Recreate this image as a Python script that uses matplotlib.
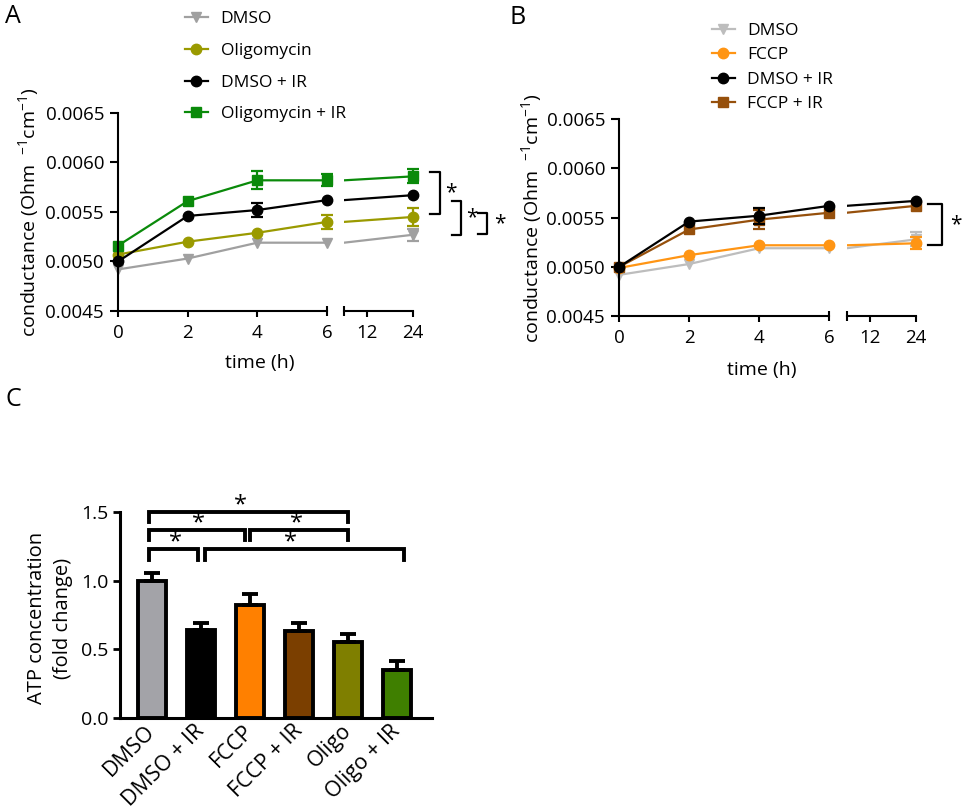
import matplotlib
matplotlib.use("Agg")
import matplotlib.pyplot as plt
import matplotlib.transforms as mtransforms
from matplotlib.lines import Line2D
import numpy as np

plt.rcParams.update({'font.family': 'Open Sans', 'font.size': 14,
                     'xtick.labelsize': 13.5, 'ytick.labelsize': 13.5,
                     'mathtext.fontset': 'custom', 'mathtext.rm': 'Open Sans',
                     'mathtext.default': 'regular', 'axes.linewidth': 1.5})

W, H = 967, 811

# ---- data ----
time_h = [0, 2, 4, 6, 24]

a_dmso = [0.00492, 0.00503, 0.00519, 0.00519, 0.00527]
a_dmso_err = [0, 0, 0, 0, 0.00006]
a_oligo = [0.00507, 0.00520, 0.00529, 0.00540, 0.00545]
a_oligo_err = [0, 0, 0, 0.00007, 0.00009]
a_dmso_ir = [0.00500, 0.00546, 0.00552, 0.00562, 0.00567]
a_dmso_ir_err = [0, 0, 0.00007, 0, 0]
a_oligo_ir = [0.00516, 0.00561, 0.00582, 0.00582, 0.00586]
a_oligo_ir_err = [0, 0, 0.00009, 0.00006, 0.00007]

b_dmso = [0.00492, 0.00503, 0.00519, 0.00519, 0.00528]
b_dmso_err = [0, 0, 0, 0, 0.00007]
b_fccp = [0.00499, 0.00512, 0.00522, 0.00522, 0.00524]
b_fccp_err = [0, 0, 0, 0, 0.00006]
b_dmso_ir = [0.00500, 0.00546, 0.00552, 0.00562, 0.00567]
b_dmso_ir_err = [0, 0, 0.00008, 0, 0]
b_fccp_ir = [0.00500, 0.00538, 0.00548, 0.00555, 0.00562]
b_fccp_ir_err = [0, 0, 0.00010, 0, 0]

# significance brackets (y spans) next to the 24 h points
a_sig = [(0.005907, 0.00548), (0.005614, 0.005268), (0.005487, 0.005278)]
b_sig = [(0.00564, 0.005224)]

c_groups = ["DMSO", "DMSO + IR", "FCCP", "FCCP + IR", "Oligo", "Oligo + IR"]
c_atp = [1.00, 0.64, 0.82, 0.635, 0.555, 0.35]
c_atp_err = [0.055, 0.055, 0.08, 0.06, 0.06, 0.065]
c_colors = ['#a3a3a8', '#000000', '#ff8000', '#7b3f00', '#7f7f00', '#3f7f00']
# pairs compared in C: (left, right, level, star x)
c_sig = [(-0.05, 4.0, 1.50, 1.81), (-0.05, 1.9, 1.37, 0.94), (2.0, 4.0, 1.37, 2.95),
         (-0.05, 0.95, 1.226, 0.48), (1.09, 5.14, 1.226, 2.82)]

fig = plt.figure(figsize=(W / 100, H / 100), dpi=100)


def fx(px):
    return px / W


def fy(py):
    return 1 - py / H


def conductance_panel(x0, x6, seg2, x24, top, bottom, series, sig, sig_x):
    s1 = (x6 - x0) / 6.0
    s2 = (x24 - seg2) / 18.0
    left1 = x0 - 0.3 * s1
    right1 = x6 + 0.25 * s1
    right2 = x24 + 1.6 * s2
    ax1 = fig.add_axes([fx(left1), fy(bottom), (right1 - left1) / W, (bottom - top) / H])
    ax2 = fig.add_axes([fx(seg2), fy(bottom), (right2 - seg2) / W, (bottom - top) / H])
    ax1.set_xlim(-0.3, 6.25)
    ax2.set_xlim(6, 25.6)
    t = np.array(time_h, dtype=float)
    for ax in (ax1, ax2):
        ax.set_ylim(0.0045, 0.0065)
        ax.patch.set_alpha(0)
        ax.spines['top'].set_visible(False)
        ax.spines['right'].set_visible(False)
        ax.tick_params(which='major', direction='out', length=4.5, width=1.5, pad=5)
        ax.tick_params(which='minor', direction='inout', length=7, width=1.5, pad=6)
    ax1.tick_params(axis='y', length=6, pad=4)
    ax1.spines['left'].set_position(('data', 0))
    ax1.spines['bottom'].set_bounds(0, 6)
    ax2.spines['left'].set_visible(False)
    ax2.spines['bottom'].set_bounds(6, 24)
    ax2.set_yticks([])
    ax1.set_yticks([0.0045, 0.0050, 0.0055, 0.0060, 0.0065])
    ax1.set_yticklabels(['0.0045', '0.0050', '0.0055', '0.0060', '0.0065'])
    ax1.set_xticks([0, 2, 4])
    ax1.set_xticks([6], labels=['6'], minor=True)
    ax2.set_xticks([12, 24])
    ax2.set_xticks([6], labels=[''], minor=True)

    handles = []
    for vals, errs, color, marker, label in series:
        v = np.array(vals)
        e = np.array(errs)
        m = e[:4] > 0
        if m.any():
            ax1.errorbar(t[:4][m], v[:4][m], yerr=e[:4][m], fmt='none', ecolor=color,
                         elinewidth=1.6, capsize=4.5, capthick=1.6)
        ax1.plot(t[:4], v[:4], color=color, marker=marker, ms=7.5, lw=1.6, mec=color)
        if e[4] > 0:
            ax2.errorbar([t[4]], [v[4]], yerr=[e[4]], fmt='none', ecolor=color,
                         elinewidth=1.6, capsize=4.5, capthick=1.6)
        ax2.plot(t[3:], v[3:], color=color, marker=marker, ms=7.5, lw=1.6, mec=color,
                 markevery=[1])
        handles.append(Line2D([0], [0], color=color, marker=marker, ms=7.5, lw=1.6,
                              label=label))

    tr = mtransforms.blended_transform_factory(ax2.transAxes, ax2.transData)
    for (yt, yb), (xa, xb, xs) in zip(sig, sig_x):
        ax2.plot([xa, xb, xb, xa], [yt, yt, yb, yb], color='black', lw=1.6,
                 transform=tr, clip_on=False)
        ax2.text(xs, (yt + yb) / 2, '*', transform=tr, ha='center', va='center',
                 fontsize=15)
    return ax1, ax2, handles


# ---- panel A ----
series_a = [(a_dmso, a_dmso_err, '#a0a0a0', 'v', 'DMSO'),
            (a_oligo, a_oligo_err, '#9a9a00', 'o', 'Oligomycin'),
            (a_dmso_ir, a_dmso_ir_err, '#000000', 'o', 'DMSO + IR'),
            (a_oligo_ir, a_oligo_ir_err, '#0a8a0a', 's', 'Oligomycin + IR')]
a1, a2, ha = conductance_panel(118, 327, 344, 413, 113, 311, series_a, a_sig,
                               [(1.147, 1.28, 1.427), (1.44, 1.56, 1.707),
                                (1.787, 1.907, 2.08)])
fig.legend(handles=ha, loc='upper left', bbox_to_anchor=(fx(185), fy(11)),
           frameon=False, borderpad=0, borderaxespad=0, handlelength=1.3,
           handletextpad=0.75, labelspacing=0.9, fontsize=12.5)

# ---- panel B ----
series_b = [(b_dmso, b_dmso_err, '#bdbdbd', 'v', 'DMSO'),
            (b_fccp, b_fccp_err, '#ff9514', 'o', 'FCCP'),
            (b_fccp_ir, b_fccp_ir_err, '#96500c', 's', 'FCCP + IR'),
            (b_dmso_ir, b_dmso_ir_err, '#000000', 'o', 'DMSO + IR')]
b1, b2, hb = conductance_panel(619, 829.3, 846.7, 916, 119, 316.3, series_b, b_sig,
                               [(1.079, 1.265, 1.44)])
hb = [hb[0], hb[1], hb[3], hb[2]]
fig.legend(handles=hb, loc='upper left', bbox_to_anchor=(fx(711.7), fy(23)),
           frameon=False, borderpad=0, borderaxespad=0, handlelength=1.34,
           handletextpad=0.7, labelspacing=0.47, fontsize=12.5)

ylab = 'conductance (Ohm  $^{-1}$cm$^{-1}$)'
fig.text(fx(29), fy(212), ylab, rotation=90, ha='center', va='center')
fig.text(fx(532), fy(218), ylab, rotation=90, ha='center', va='center')
fig.text(fx(260), fy(363), 'time (h)', ha='center', va='center')
fig.text(fx(762), fy(370), 'time (h)', ha='center', va='center')

# ---- panel C ----
axc = fig.add_axes([fx(120), fy(718.3), (432 - 120) / W, (718.3 - 511.7) / H])
xpos = np.arange(len(c_groups))
axc.bar(xpos, c_atp, width=0.56, color=c_colors, edgecolor='black', linewidth=2.8,
        yerr=[np.zeros(len(c_atp)), c_atp_err],
        error_kw=dict(elinewidth=2.8, capsize=6, capthick=2.8, ecolor='black', zorder=1))
axc.set_xlim(-0.65, 5.71)
axc.set_ylim(0, 1.5)
axc.set_yticks([0.0, 0.5, 1.0, 1.5])
axc.set_yticklabels(['0.0', '0.5', '1.0', '1.5'], fontsize=14)
axc.set_xticks(xpos)
axc.set_xticklabels(c_groups, rotation=45, ha='right', va='center', rotation_mode='anchor',
                    fontsize=15.5)
axc.tick_params(axis='x', length=0, pad=7)
axc.tick_params(axis='y', length=5, width=2, pad=3.5)
for s in ('top', 'right'):
    axc.spines[s].set_visible(False)
for s in ('left', 'bottom'):
    axc.spines[s].set_linewidth(2.2)
for xa, xb, yl, xs in c_sig:
    axc.plot([xa, xa, xb, xb], [yl - 0.078, yl, yl, yl - 0.078], color='black', lw=2.8,
             clip_on=False, solid_joinstyle='miter')
    axc.text(xs, yl + 0.005, '*', ha='center', va='baseline', fontsize=17)
fig.text(fx(50), fy(618), 'ATP concentration\n(fold change)', rotation=90,
         ha='center', va='center', linespacing=1.35, fontsize=14.5)

# panel letters
fig.text(fx(12.5), fy(16.5), 'A', fontsize=18, ha='center', va='center')
fig.text(fx(518), fy(17.5), 'B', fontsize=18, ha='center', va='center')
fig.text(fx(13), fy(400), 'C', fontsize=18, ha='center', va='center')

fig.savefig('out.png', dpi=100)
